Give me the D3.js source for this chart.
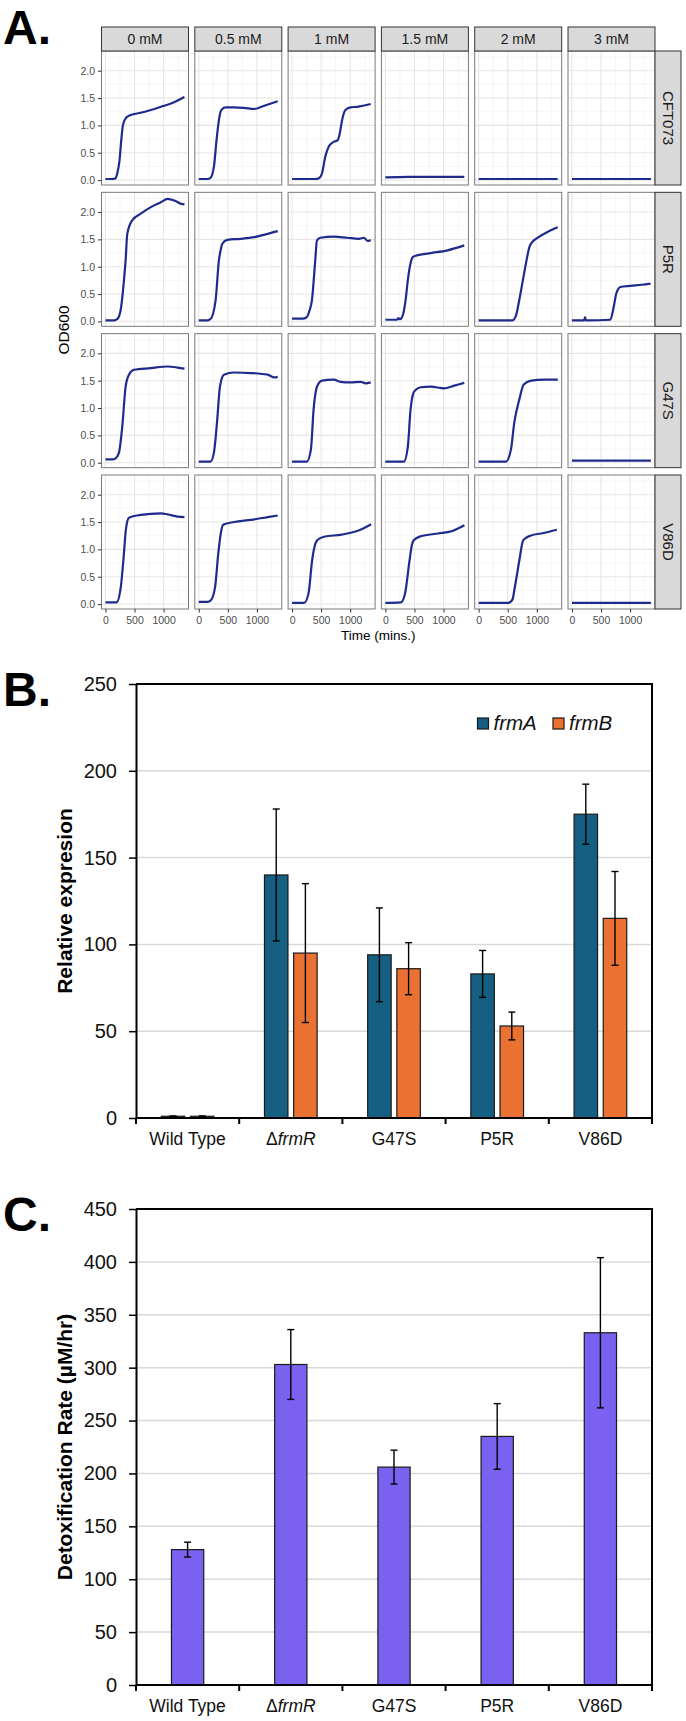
<!DOCTYPE html>
<html>
<head>
<meta charset="utf-8">
<script src="https://cdn.jsdelivr.net/npm/d3@7"></script>
<style>
body { margin: 0; background: #fff; }
svg { display: block; font-family: "Liberation Sans", Arial, sans-serif; }
</style>
</head>
<body>
<div id="chart"></div>
<script>
const width = 686;
const height = 1721;

// ---------- Panel A: growth curves, [time (mins), OD600] ----------
const concentrations = ["0 mM", "0.5 mM", "1 mM", "1.5 mM", "2 mM", "3 mM"];
const strains = ["CFT073", "P5R", "G47S", "V86D"];
const timeTicks = [0, 500, 1000];
const odTicks = [0, 0.5, 1, 1.5, 2];

const cft073Curves = [
    [[0,0.02],[100,0.02],[173,0.03],[202,0.12],[243,0.37],[272,0.73],[300,1.0],[347,1.13],[433,1.19],[607,1.23],[780,1.28],[953,1.34],[1127,1.40],[1358,1.52]],
    [[0,0.02],[150,0.02],[202,0.04],[260,0.24],[306,0.73],[347,1.10],[387,1.28],[462,1.33],[607,1.33],[780,1.32],[953,1.30],[1127,1.36],[1358,1.44]],
    [[0,0.02],[400,0.02],[456,0.03],[514,0.12],[572,0.43],[630,0.61],[716,0.70],[786,0.73],[820,0.85],[861,1.10],[918,1.28],[1005,1.33],[1121,1.34],[1352,1.39]],
    [[0,0.05],[400,0.06],[800,0.06],[1358,0.06]],
    [[0,0.02],[1358,0.02]],
    [[0,0.02],[1358,0.02]]
];
const p5rCurves = [
    [[0,0.02],[150,0.02],[200,0.04],[260,0.2],[318,0.75],[347,1.12],[375,1.6],[462,1.85],[607,1.97],[780,2.09],[953,2.18],[1069,2.24],[1184,2.21],[1300,2.15],[1358,2.14]],
    [[0,0.02],[150,0.02],[200,0.04],[289,0.38],[347,1.12],[376,1.3],[405,1.42],[491,1.49],[723,1.51],[953,1.54],[1185,1.6],[1358,1.65]],
    [[0,0.05],[180,0.05],[254,0.08],[300,0.2],[341,0.38],[399,1.12],[428,1.48],[486,1.53],[717,1.55],[948,1.53],[1150,1.51],[1236,1.53],[1300,1.47],[1352,1.49]],
    [[0,0.03],[200,0.03],[225,0.06],[250,0.04],[289,0.08],[347,0.38],[386,0.75],[430,1.05],[475,1.18],[520,1.2],[607,1.22],[780,1.25],[1069,1.3],[1357,1.39]],
    [[0,0.02],[584,0.02],[640,0.1],[700,0.4],[760,0.75],[820,1.1],[870,1.35],[920,1.45],[1017,1.53],[1190,1.64],[1360,1.72]],
    [[0,0.02],[210,0.02],[225,0.08],[240,0.02],[659,0.03],[717,0.26],[762,0.51],[800,0.6],[832,0.63],[1005,0.65],[1200,0.67],[1352,0.69]]
];
const g47sCurves = [
    [[0,0.06],[120,0.06],[173,0.08],[231,0.18],[289,0.66],[347,1.39],[404,1.61],[491,1.70],[780,1.73],[1069,1.76],[1242,1.74],[1358,1.72]],
    [[0,0.02],[202,0.02],[260,0.18],[318,0.79],[364,1.39],[433,1.61],[607,1.65],[896,1.64],[1185,1.61],[1300,1.56],[1358,1.57]],
    [[0,0.02],[254,0.02],[324,0.24],[370,0.97],[428,1.39],[514,1.50],[717,1.52],[832,1.48],[1005,1.47],[1178,1.48],[1265,1.45],[1352,1.47]],
    [[0,0.02],[318,0.02],[387,0.30],[433,0.97],[480,1.27],[520,1.33],[607,1.38],[780,1.39],[1011,1.36],[1184,1.41],[1357,1.46]],
    [[0,0.02],[468,0.02],[555,0.24],[612,0.73],[698,1.15],[775,1.43],[901,1.50],[1132,1.52],[1360,1.52]],
    [[0,0.04],[1358,0.04]]
];
const v86dCurves = [
    [[0,0.03],[189,0.03],[265,0.32],[318,0.93],[350,1.35],[404,1.58],[607,1.63],[953,1.66],[1069,1.64],[1242,1.60],[1358,1.59]],
    [[0,0.04],[150,0.04],[208,0.07],[282,0.32],[336,0.93],[380,1.3],[420,1.45],[607,1.50],[896,1.54],[1185,1.59],[1358,1.62]],
    [[0,0.02],[208,0.02],[284,0.2],[345,0.8],[400,1.1],[437,1.17],[549,1.23],[853,1.27],[1156,1.35],[1360,1.46]],
    [[0,0.02],[265,0.03],[340,0.2],[416,0.8],[460,1.1],[492,1.17],[607,1.24],[908,1.29],[1137,1.33],[1360,1.44]],
    [[0,0.02],[510,0.02],[580,0.08],[624,0.32],[700,0.8],[760,1.15],[800,1.2],[889,1.25],[1117,1.30],[1345,1.36]],
    [[0,0.02],[1358,0.02]]
];

// ---------- Panel B: relative expression ----------
const genotypes = ["Wild Type", "ΔfrmR", "G47S", "P5R", "V86D"];
const genes = ["frmA", "frmB"];
const frmAExpr = [1, 140, 94, 83, 175];
const frmAErr = [0.2, 38, 27, 13.5, 17.3];
const frmBExpr = [1, 95, 86, 53, 115];
const frmBErr = [0.2, 40, 15, 8, 27];
const exprTicks = [0, 50, 100, 150, 200, 250];

// ---------- Panel C: detoxification rate ----------
const rateValues = [128, 303, 206, 235, 333];
const rateErr = [7, 33, 16, 31, 71];
const rateTicks = [0, 50, 100, 150, 200, 250, 300, 350, 400, 450];

const lineColor = "#1f2b8c";
const geneColors = {frmA: "#156082", frmB: "#E97132"};
const rateColor = "#7B61F0";

const svg = d3.select("#chart")
    .append("svg")
    .attr("width", width)
    .attr("height", height);

// panel letters
[["A.", 44], ["B.", 706], ["C.", 1231]].forEach(([t, y]) => {
    svg.append("text")
        .attr("x", 3)
        .attr("y", y)
        .style("font-size", "48px")
        .style("font-weight", "bold")
        .text(t);
});

// ================= Panel A =================
const facetW = 87, facetH = 134;
const colStep = 93.3, rowStep = 141.33;
const facetLeft = 101.5, facetTop = 51;
const stripH = 24, stripW = 26;

const tx = d3.scaleLinear().domain([-68, 1428]).range([0, facetW]);
const ty = d3.scaleLinear().domain([-0.09, 2.36]).range([facetH, 0]);
const minorX = [250, 750, 1250];
const minorY = [0.25, 0.75, 1.25, 1.75, 2.25];

const growthLine = d3.line()
    .x(d => tx(d[0]))
    .y(d => ty(d[1]))
    .curve(d3.curveMonotoneX);

const curvesByStrain = [cft073Curves, p5rCurves, g47sCurves, v86dCurves];

strains.forEach((strain, r) => {
    concentrations.forEach((conc, k) => {
        const x0 = facetLeft + k * colStep;
        const y0 = facetTop + r * rowStep;
        const g = svg.append("g").attr("transform", `translate(${x0},${y0})`);

        // minor grid
        g.selectAll(".mx").data(minorX).join("line")
            .attr("x1", d => tx(d)).attr("x2", d => tx(d))
            .attr("y1", 0).attr("y2", facetH)
            .attr("stroke", "#f2f2f2").attr("stroke-width", 0.7);
        g.selectAll(".my").data(minorY).join("line")
            .attr("y1", d => ty(d)).attr("y2", d => ty(d))
            .attr("x1", 0).attr("x2", facetW)
            .attr("stroke", "#f2f2f2").attr("stroke-width", 0.7);
        // major grid
        g.selectAll(".Mx").data(timeTicks).join("line")
            .attr("x1", d => tx(d)).attr("x2", d => tx(d))
            .attr("y1", 0).attr("y2", facetH)
            .attr("stroke", "#e6e6e6").attr("stroke-width", 1.1);
        g.selectAll(".My").data(odTicks).join("line")
            .attr("y1", d => ty(d)).attr("y2", d => ty(d))
            .attr("x1", 0).attr("x2", facetW)
            .attr("stroke", "#e6e6e6").attr("stroke-width", 1.1);

        g.append("path")
            .datum(curvesByStrain[r][k])
            .attr("d", growthLine)
            .attr("fill", "none")
            .attr("stroke", lineColor)
            .attr("stroke-width", 2.2)
            .attr("stroke-linejoin", "round");

        g.append("rect")
            .attr("width", facetW).attr("height", facetH)
            .attr("fill", "none")
            .attr("stroke", "#7a7a7a")
            .attr("stroke-width", 1);

        if (k === 0) {
            const ya = g.append("g")
                .call(d3.axisLeft(ty).tickValues(odTicks).tickFormat(d3.format(".1f")).tickSize(3.5).tickPadding(3));
            ya.select(".domain").remove();
            ya.selectAll("line").attr("stroke", "#333");
            ya.selectAll("text").attr("fill", "#4d4d4d").style("font-size", "10.5px").style("font-family", "inherit");
        }
        if (r === strains.length - 1) {
            const xa = g.append("g")
                .attr("transform", `translate(0,${facetH})`)
                .call(d3.axisBottom(tx).tickValues(timeTicks).tickFormat(d3.format("d")).tickSize(3.5).tickPadding(4));
            xa.select(".domain").remove();
            xa.selectAll("line").attr("stroke", "#333");
            xa.selectAll("text").attr("fill", "#4d4d4d").style("font-size", "10.5px").style("font-family", "inherit");
        }
    });

    // right strip
    const sy = facetTop + r * rowStep;
    const sx = facetLeft + (concentrations.length - 1) * colStep + facetW;
    svg.append("rect")
        .attr("x", sx).attr("y", sy)
        .attr("width", stripW).attr("height", facetH)
        .attr("fill", "#d9d9d9").attr("stroke", "#333").attr("stroke-width", 1);
    svg.append("text")
        .attr("transform", `translate(${sx + stripW / 2},${sy + facetH / 2}) rotate(90)`)
        .attr("text-anchor", "middle")
        .attr("dy", "0.35em")
        .style("font-size", "15px")
        .attr("fill", "#1a1a1a")
        .text(strain);
});

// top strips
concentrations.forEach((conc, k) => {
    const sx = facetLeft + k * colStep;
    svg.append("rect")
        .attr("x", sx).attr("y", facetTop - stripH)
        .attr("width", facetW).attr("height", stripH)
        .attr("fill", "#d9d9d9").attr("stroke", "#333").attr("stroke-width", 1);
    svg.append("text")
        .attr("x", sx + facetW / 2).attr("y", facetTop - stripH / 2)
        .attr("text-anchor", "middle")
        .attr("dy", "0.35em")
        .style("font-size", "14px")
        .attr("fill", "#1a1a1a")
        .text(conc);
});

const facetsBottom = facetTop + (strains.length - 1) * rowStep + facetH;
const facetsRight = facetLeft + (concentrations.length - 1) * colStep + facetW;

svg.append("text")
    .attr("transform", `translate(64,${(facetTop + facetsBottom) / 2}) rotate(-90)`)
    .attr("text-anchor", "middle")
    .attr("dy", "0.35em")
    .style("font-size", "15.5px")
    .text("OD600");

svg.append("text")
    .attr("x", (facetLeft + facetsRight) / 2)
    .attr("y", 640)
    .attr("text-anchor", "middle")
    .style("font-size", "13.5px")
    .text("Time (mins.)");

// ================= Panel B & C helpers =================
const plotLeft = 136, plotRight = 652;

function drawFrame(y, top, bottom, ticks, title, titleY) {
    // gridlines
    svg.append("g")
        .selectAll("line")
        .data(ticks.filter(t => y(t) > top + 1 && y(t) < bottom - 1))
        .join("line")
        .attr("x1", plotLeft).attr("x2", plotRight)
        .attr("y1", d => y(d)).attr("y2", d => y(d))
        .attr("stroke", "#d9d9d9").attr("stroke-width", 1.5);

    // y axis
    const ya = svg.append("g")
        .attr("transform", `translate(${plotLeft},0)`)
        .call(d3.axisLeft(y).tickValues(ticks).tickSize(7).tickSizeOuter(0).tickPadding(12));
    ya.select(".domain").attr("stroke", "#000").attr("stroke-width", 2);
    ya.selectAll(".tick line").attr("stroke", "#000").attr("stroke-width", 1.5);
    ya.selectAll("text").attr("fill", "#111").style("font-size", "20px").style("font-family", "inherit");

    // top and right border
    svg.append("path")
        .attr("d", `M${plotLeft},${top}H${plotRight}V${bottom}`)
        .attr("fill", "none").attr("stroke", "#000").attr("stroke-width", 2);

    svg.append("text")
        .attr("transform", `translate(65,${titleY}) rotate(-90)`)
        .attr("text-anchor", "middle")
        .attr("dy", "0.35em")
        .style("font-size", "21px")
        .style("font-weight", "bold")
        .text(title);
}

function drawCategoryAxis(x, bottom) {
    svg.append("line")
        .attr("x1", plotLeft).attr("x2", plotRight)
        .attr("y1", bottom).attr("y2", bottom)
        .attr("stroke", "#000").attr("stroke-width", 2);
    const edges = [x(genotypes[0])].concat(genotypes.map(gt => x(gt) + x.bandwidth()));
    svg.append("g").selectAll("line").data(edges).join("line")
        .attr("x1", d => d).attr("x2", d => d)
        .attr("y1", bottom).attr("y2", bottom + 6)
        .attr("stroke", "#000").attr("stroke-width", 2);
    const labels = svg.append("g").selectAll("text").data(genotypes).join("text")
        .attr("x", d => x(d) + x.bandwidth() / 2)
        .attr("y", bottom + 27)
        .attr("text-anchor", "middle")
        .style("font-size", "17.5px")
        .attr("fill", "#111");
    labels.each(function(d) {
        const t = d3.select(this);
        if (d.startsWith("Δ")) {
            t.append("tspan").text("Δ");
            t.append("tspan").style("font-style", "italic").text(d.slice(1));
        } else {
            t.text(d);
        }
    });
}

function errorBar(g, cx, y, v, e, cap) {
    g.append("line")
        .attr("x1", cx).attr("x2", cx)
        .attr("y1", y(v + e)).attr("y2", y(v - e))
        .attr("stroke", "#000").attr("stroke-width", 1.4);
    [v + e, v - e].forEach(val => {
        g.append("line")
            .attr("x1", cx - cap).attr("x2", cx + cap)
            .attr("y1", y(val)).attr("y2", y(val))
            .attr("stroke", "#000").attr("stroke-width", 1.4);
    });
}

// ================= Panel B =================
const bTop = 684, bBottom = 1118;
const xB = d3.scaleBand().domain(genotypes).range([plotLeft, plotRight]);
const xBInner = d3.scaleBand().domain(genes).range([0, xB.bandwidth()]).paddingInner(0.195).paddingOuter(0.866);
const yB = d3.scaleLinear().domain([0, 250]).range([bBottom, bTop]);

drawFrame(yB, bTop, bBottom, exprTicks, "Relative expresion", (bTop + bBottom) / 2);

const exprSeries = {frmA: [frmAExpr, frmAErr], frmB: [frmBExpr, frmBErr]};
const gB = svg.append("g");
genotypes.forEach((gt, i) => {
    genes.forEach(gene => {
        const v = exprSeries[gene][0][i];
        const e = exprSeries[gene][1][i];
        const bx = xB(gt) + xBInner(gene);
        gB.append("rect")
            .attr("x", bx).attr("y", yB(v))
            .attr("width", xBInner.bandwidth())
            .attr("height", yB(0) - yB(v))
            .attr("fill", geneColors[gene])
            .attr("stroke", "#1a1a1a").attr("stroke-width", 1.2);
        errorBar(gB, bx + xBInner.bandwidth() / 2, yB, v, e, 3.5);
    });
});
drawCategoryAxis(xB, bBottom);

// legend
const legendX = [477.5, 553];
genes.forEach((gene, i) => {
    svg.append("rect")
        .attr("x", legendX[i]).attr("y", 718)
        .attr("width", 11).attr("height", 11)
        .attr("fill", geneColors[gene])
        .attr("stroke", "#1a1a1a").attr("stroke-width", 1.2);
    svg.append("text")
        .attr("x", legendX[i] + 16).attr("y", 730)
        .style("font-size", "20.5px")
        .style("font-style", "italic")
        .attr("fill", "#111")
        .text(gene);
});

// ================= Panel C =================
const cTop = 1209, cBottom = 1685;
const xC = d3.scaleBand().domain(genotypes).range([plotLeft, plotRight]);
const xCInner = d3.scaleBand().domain(["rate"]).range([0, xC.bandwidth()]).padding(0.5236);
const yC = d3.scaleLinear().domain([0, 450]).range([cBottom, cTop]);

drawFrame(yC, cTop, cBottom, rateTicks, "Detoxification Rate (µM/hr)", (cTop + cBottom) / 2);

const gC = svg.append("g");
genotypes.forEach((gt, i) => {
    const bx = xC(gt) + xCInner("rate");
    gC.append("rect")
        .attr("x", bx).attr("y", yC(rateValues[i]))
        .attr("width", xCInner.bandwidth())
        .attr("height", yC(0) - yC(rateValues[i]))
        .attr("fill", rateColor)
        .attr("stroke", "#1a1a1a").attr("stroke-width", 1.2);
    errorBar(gC, bx + xCInner.bandwidth() / 2, yC, rateValues[i], rateErr[i], 3.5);
});
drawCategoryAxis(xC, cBottom);
</script>
</body>
</html>
